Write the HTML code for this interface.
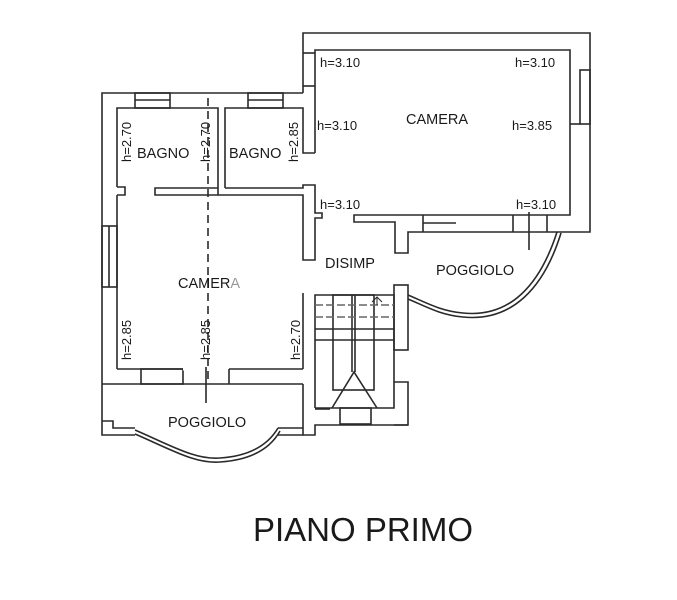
<!DOCTYPE html>
<html><head><meta charset="utf-8"><style>
html,body{margin:0;padding:0;background:#fff;}
svg{display:block;}
text{font-family:"Liberation Sans",Arial,sans-serif;fill:#1a1a1a;}
</style></head><body>
<svg width="677" height="600" viewBox="0 0 677 600" xmlns="http://www.w3.org/2000/svg">
<g fill="none" stroke="#2a2a2a" stroke-width="1.6" stroke-linejoin="miter">
<!-- left block outer -->
<polyline points="303,93 102,93 102,384"/>
<!-- top windows -->
<rect x="135" y="93" width="35" height="15"/>
<line x1="135" y1="100" x2="170" y2="100"/>
<rect x="248" y="93" width="35" height="15"/>
<line x1="248" y1="100" x2="283" y2="100"/>
<!-- left wall window -->
<rect x="102" y="226" width="15" height="61"/>
<line x1="109" y1="226" x2="109" y2="287"/>
<!-- bagno 1 -->
<polyline points="117,187 117,108 218,108 218,195 155,195 155,188 218,188"/>
<polyline points="117,187 125,187 125,195 117,195"/>
<line x1="117" y1="195" x2="117" y2="369"/>
<!-- bagno 2 -->
<polyline points="225,188 225,108 303,108 303,153 315,153"/>
<polyline points="225,188 303,188 303,185 315,185 315,213 322,213 322,218 315,218 315,260 303,260 303,195 218,195"/>
<!-- upper right block -->
<polyline points="303,93 303,33 590,33 590,232 408,232 408,253 395,253 395,222 354,222 354,215 570,215 570,50 315,50 315,153"/>
<line x1="303" y1="53" x2="315" y2="53"/>
<line x1="303" y1="86" x2="315" y2="86"/>
<!-- right window -->
<rect x="580" y="70" width="10" height="54"/>
<line x1="570" y1="124" x2="580" y2="124"/>
<!-- bottom window in camera wall -->
<line x1="423" y1="215" x2="423" y2="232"/>
<line x1="513" y1="215" x2="513" y2="232"/>
<line x1="423" y1="223" x2="456" y2="223"/>
<line x1="547" y1="215" x2="547" y2="232"/>
<line x1="529" y1="212" x2="529" y2="250"/>
<!-- arc poggiolo right -->
<path d="M557,232 C540,285 510,318 463,313 C440,311 425,302 408,295"/>
<path d="M561,233 C544,288 512,322 463,317 C440,315 425,306 408,299"/>
<!-- stair right column -->
<rect x="394" y="285" width="14" height="65"/>
<polyline points="394,382 408,382 408,425 394,425"/>
<!-- camera lower -->
<line x1="303" y1="293" x2="303" y2="369"/>
<polyline points="117,369 303,369"/>
<rect x="141" y="369" width="42" height="15"/>
<line x1="183" y1="369" x2="229" y2="369" stroke="#fff" stroke-width="3"/>
<line x1="229" y1="369" x2="229" y2="384"/>
<line x1="206" y1="367" x2="206" y2="403"/>
<!-- poggiolo lower -->
<polyline points="102,384 303,384"/>
<polyline points="102,384 102,435 135,435"/>
<polyline points="102,421 113,421 113,428 135,428"/>
<polyline points="303,384 303,435 278,435"/>
<polyline points="303,428 278,428"/>
<path d="M135,430 C170,445 195,460 220,458 C250,456 268,445 278,428"/>
<path d="M135,434 C170,449 195,464 220,462 C250,460 270,449 280,431"/>
<polyline points="303,435 315,435 315,425 408,425"/>
<polyline points="315,408 315,295 394,295 394,408 315,408"/>
<line x1="315" y1="409" x2="330" y2="409"/>
<!-- stair internals -->
<rect x="333" y="295" width="41" height="95"/>
<line x1="352" y1="295" x2="352" y2="372"/>
<line x1="355" y1="295" x2="355" y2="372"/>
<line x1="315" y1="329" x2="394" y2="329"/>
<line x1="315" y1="340" x2="394" y2="340"/>
<line x1="315" y1="305" x2="394" y2="305" stroke-dasharray="8,3" stroke="#666"/>
<line x1="315" y1="317" x2="394" y2="317" stroke-dasharray="8,3" stroke="#666"/>
<polyline points="332,408 354,372 377,408"/>
<rect x="340" y="408" width="31" height="16"/>
<polyline points="372,302 377,297 382,302" stroke-width="1"/>
<line x1="377" y1="297" x2="377" y2="305" stroke-width="1"/>
<!-- dashed -->
<line x1="208" y1="98" x2="208" y2="382" stroke-dasharray="8,5"/>
</g>
<g font-size="13">
<text x="320" y="67">h=3.10</text>
<text x="515" y="67">h=3.10</text>
<text x="317" y="130">h=3.10</text>
<text x="512" y="130">h=3.85</text>
<text x="320" y="209">h=3.10</text>
<text x="516" y="209">h=3.10</text>
<text transform="translate(131,162) rotate(-90)">h=2.70</text>
<text transform="translate(210,162) rotate(-90)">h=2.70</text>
<text transform="translate(298,162) rotate(-90)">h=2.85</text>
<text transform="translate(131,360) rotate(-90)">h=2.85</text>
<text transform="translate(210,360) rotate(-90)">h=2.85</text>
<text transform="translate(300,360) rotate(-90)">h=2.70</text>
</g>
<g font-size="14.5">
<text x="137" y="158">BAGNO</text>
<text x="229" y="158">BAGNO</text>
<text x="406" y="124">CAMERA</text>
<text x="325" y="268">DISIMP</text>
<text x="436" y="275">POGGIOLO</text>
<text x="178" y="288">CAMER<tspan fill="#999">A</tspan></text>
<text x="168" y="427">POGGIOLO</text>
</g>
<text x="363" y="541" font-size="33" text-anchor="middle">PIANO PRIMO</text>
</svg>
</body></html>
